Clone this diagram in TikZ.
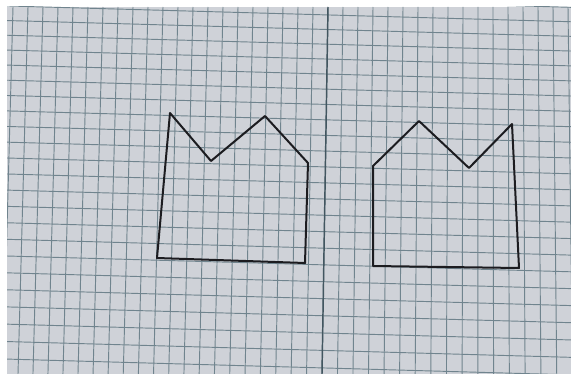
\documentclass[tikz,border=0pt]{standalone}
\definecolor{paper}{RGB}{207,210,216}
\definecolor{gridc}{RGB}{112,132,142}
\definecolor{foldc}{RGB}{66,86,96}
\definecolor{pen}{RGB}{28,28,32}
\begin{document}
\begin{tikzpicture}[x=0.75pt,y=-0.75pt,
  gridline/.style={draw=gridc, line width=0.7pt},
  foldline/.style={draw=foldc, line width=1.1pt},
  penline/.style={draw=pen, line width=1.5pt, line join=round, line cap=round}]
\useasboundingbox (0,0) rectangle (571,374);
\fill[white] (0,0) rectangle (571,374);
\fill[paper] (7,7) rectangle (571,374);
\begin{scope}
\clip (7,7) rectangle (571,374);
\foreach \k in {-22,...,17}{
  \pgfmathsetmacro{\xt}{328+15*\k}
  \pgfmathsetmacro{\dd}{(\xt-328)/100}
  \pgfmathsetmacro{\sh}{0.569*\dd*\dd+3.04*\dd-6}
  \draw[gridline] (\xt,7) -- ({\xt+\sh},374);
}
\foreach \j in {-1,...,23}{
  \pgfmathsetmacro{\ym}{15+14.5*\j+0.0705*\j*\j}
  \draw[gridline] (7,{\ym-9.04}) -- (571,{\ym+6.75});
}
\coordinate (foldtop) at (328,7);
\coordinate (foldbot) at (322,374);
\draw[foldline] (foldtop) -- (foldbot);
\end{scope}
% left figure
\coordinate (LA) at (157,258);
\coordinate (LB) at (170,113);
\coordinate (LC) at (211,161);
\coordinate (LD) at (265,116);
\coordinate (LE) at (308,163);
\coordinate (LF) at (305,263);
\draw[penline] (LA) -- (LB) -- (LC) -- (LD) -- (LE) -- (LF) -- cycle;
% right figure
\coordinate (RA) at (373,266);
\coordinate (RB) at (373,166);
\coordinate (RC) at (419,121);
\coordinate (RD) at (469,168);
\coordinate (RE) at (512,124);
\coordinate (RF) at (519,268);
\draw[penline] (RA) -- (RB) -- (RC) -- (RD) -- (RE) -- (RF) -- cycle;
\end{tikzpicture}
\end{document}
